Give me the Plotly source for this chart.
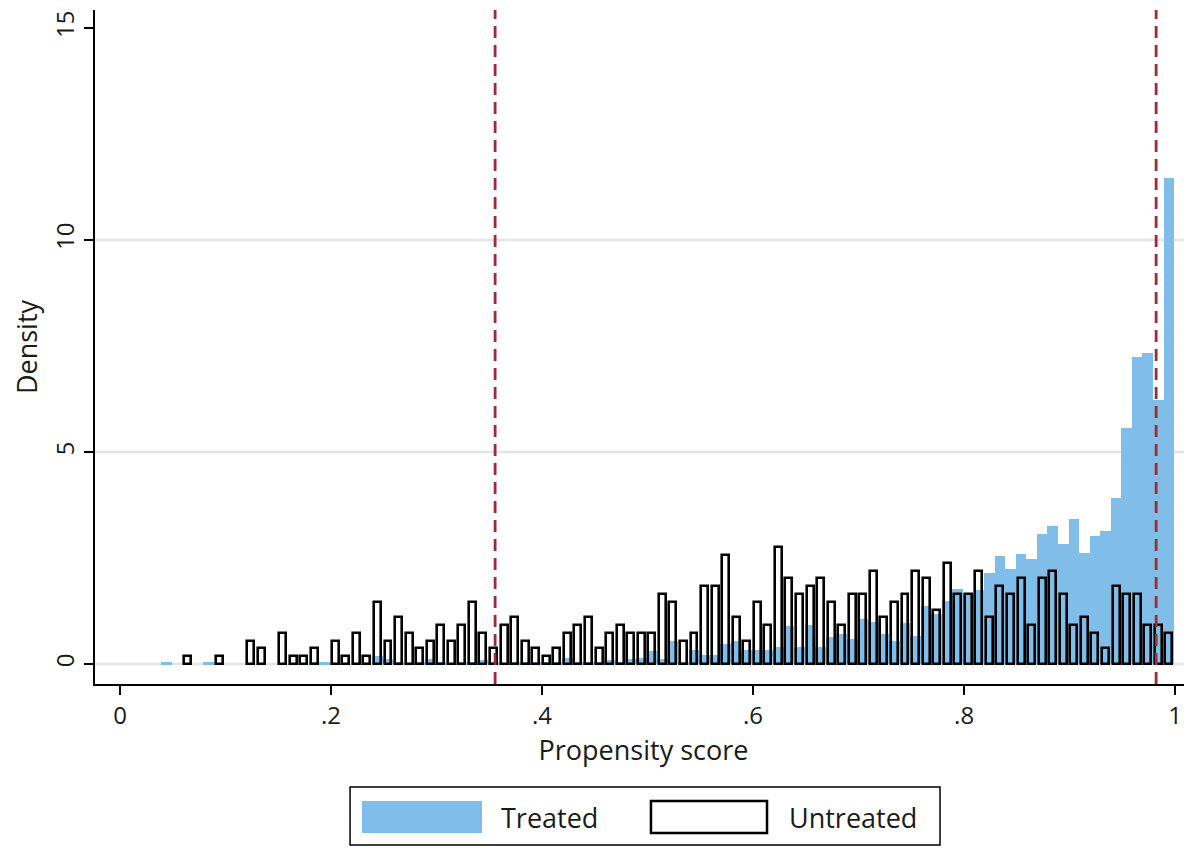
import plotly.graph_objects as go

# Histogram bins (bin width 0.01, first bin centred at 0.044)
bin_start = 0.044
bin_width = 0.01
n_bins = 96

treated_density = [
    0.04, 0, 0, 0, 0.04, 0, 0, 0, 0, 0,
    0, 0, 0, 0, 0.04, 0.04, 0.02, 0, 0, 0,
    0.18, 0.12, 0.04, 0, 0.04, 0.12, 0.04, 0, 0.04, 0.04,
    0.10, 0.04, 0, 0.04, 0.04, 0.04, 0.04, 0.04, 0.14, 0.04,
    0.04, 0.04, 0.10, 0.04, 0.12, 0.14, 0.31, 0.12, 0.54, 0.04,
    0.34, 0.21, 0.21, 0.47, 0.55, 0.33, 0.33, 0.33, 0.40, 0.90,
    0.40, 0.92, 0.40, 0.64, 0.71, 0.59, 1.06, 0.99, 0.72, 0.55,
    0.97, 0.66, 1.37, 1.17, 1.49, 1.77, 1.66, 1.75, 2.15, 2.55,
    2.25, 2.59, 2.48, 3.07, 3.25, 2.83, 3.42, 2.61, 3.02, 3.14,
    3.91, 5.57, 7.25, 7.34, 6.23, 11.45,
]

untreated_density = [
    0, 0, 0.18, 0, 0, 0.18, 0, 0, 0.55, 0.37,
    0, 0.73, 0.18, 0.18, 0.37, 0, 0.55, 0.18, 0.73, 0.18,
    1.47, 0.55, 1.10, 0.73, 0.37, 0.55, 0.92, 0.55, 0.92, 1.47,
    0.73, 0.37, 0.92, 1.10, 0.55, 0.37, 0.18, 0.37, 0.73, 0.92,
    1.10, 0.37, 0.73, 0.92, 0.73, 0.73, 0.73, 1.65, 1.47, 0.55,
    0.73, 1.83, 1.83, 2.57, 1.10, 0.55, 1.47, 0.92, 2.75, 2.02,
    1.65, 1.83, 2.02, 1.47, 0.92, 1.65, 1.65, 2.20, 1.10, 1.47,
    1.65, 2.20, 2.02, 1.28, 2.38, 1.65, 1.65, 2.20, 1.10, 1.83,
    1.65, 2.02, 0.92, 2.02, 2.20, 1.65, 0.92, 1.10, 0.73, 0.37,
    1.83, 1.65, 1.65, 0.92, 0.92, 0.73,
]

cutoffs = [0.3555, 0.982]

x_tick_vals = [0, 0.2, 0.4, 0.6, 0.8, 1]
x_tick_text = ["0", ".2", ".4", ".6", ".8", "1"]
y_tick_vals = [0, 5, 10, 15]
y_tick_text = ["0", "5", "10", "15"]
grid_vals = [0, 5, 10]

centers = [round(bin_start + i * bin_width, 4) for i in range(n_bins)]
treated_y = [v if v > 0 else None for v in treated_density]
untreated_y = [v if v > 0 else None for v in untreated_density]

FONT = "Open Sans"
BLUE = "#80bde8"
RED = "#9b2c38"
TXT = "#1a1a1a"

fig = go.Figure()
fig.add_trace(go.Bar(
    x=centers, y=treated_y, width=bin_width * 0.999,
    marker=dict(color=BLUE, line=dict(width=0)),
    name="Treated", showlegend=False,
))
fig.add_trace(go.Bar(
    x=centers, y=untreated_y, width=bin_width * 0.66,
    marker=dict(color="rgba(0,0,0,0)", line=dict(color="black", width=2.6)),
    name="Untreated", showlegend=False,
))

shapes = []
for g in grid_vals:
    shapes.append(dict(type="line", xref="paper", yref="y", x0=0, x1=1, y0=g, y1=g,
                       line=dict(color="#e4e4e4", width=2.5), layer="below"))
for c in cutoffs:
    shapes.append(dict(type="line", xref="x", yref="paper", x0=c, x1=c, y0=0, y1=1,
                       line=dict(color=RED, width=2.8, dash="12px,7px"), layer="above"))

# legend (drawn manually to match the wide swatches)
shapes.append(dict(type="rect", xref="paper", yref="paper", x0=0.2325, x1=0.7703,
                   y0=-0.2389, y1=-0.1528, line=dict(color="black", width=1.5),
                   fillcolor="white"))
shapes.append(dict(type="rect", xref="paper", yref="paper", x0=0.2434, x1=0.3528,
                   y0=-0.2211, y1=-0.1736, line=dict(width=0), fillcolor=BLUE))
shapes.append(dict(type="rect", xref="paper", yref="paper", x0=0.5068, x1=0.6126,
                   y0=-0.2211, y1=-0.1736, line=dict(color="black", width=2.5),
                   fillcolor="white"))

annotations = [
    dict(text="Treated", xref="paper", yref="paper", x=0.3685, y=-0.1985,
         xanchor="left", yanchor="middle", showarrow=False,
         font=dict(family=FONT, size=27, color=TXT)),
    dict(text="Untreated", xref="paper", yref="paper", x=0.6310, y=-0.1985,
         xanchor="left", yanchor="middle", showarrow=False,
         font=dict(family=FONT, size=27, color=TXT)),
]

fig.update_layout(
    width=1184, height=840,
    margin=dict(l=87, r=0, t=2, b=164),
    paper_bgcolor="white", plot_bgcolor="white",
    barmode="overlay", bargap=0,
    font=dict(family=FONT, size=24, color=TXT),
    shapes=shapes, annotations=annotations,
    showlegend=False,
    xaxis=dict(
        range=[-0.0237, 1.016], tickvals=x_tick_vals, ticktext=x_tick_text,
        showgrid=False, zeroline=False, showline=True, linecolor="black", linewidth=2,
        ticks="outside", ticklen=9, tickwidth=2, tickcolor="black",
        tickfont=dict(family=FONT, size=24, color=TXT),
        title=dict(text="Propensity score", font=dict(family=FONT, size=27, color=TXT), standoff=10),
    ),
    yaxis=dict(
        range=[-0.47, 15.42], tickvals=y_tick_vals, ticktext=y_tick_text,
        showgrid=False, zeroline=False, showline=True, linecolor="black", linewidth=2,
        ticks="outside", ticklen=9, tickwidth=2, tickcolor="black", tickangle=-90,
        tickfont=dict(family=FONT, size=24, color=TXT),
        title=dict(text="Density", font=dict(family=FONT, size=27, color=TXT), standoff=14),
    ),
)

fig.write_html("out.html")
